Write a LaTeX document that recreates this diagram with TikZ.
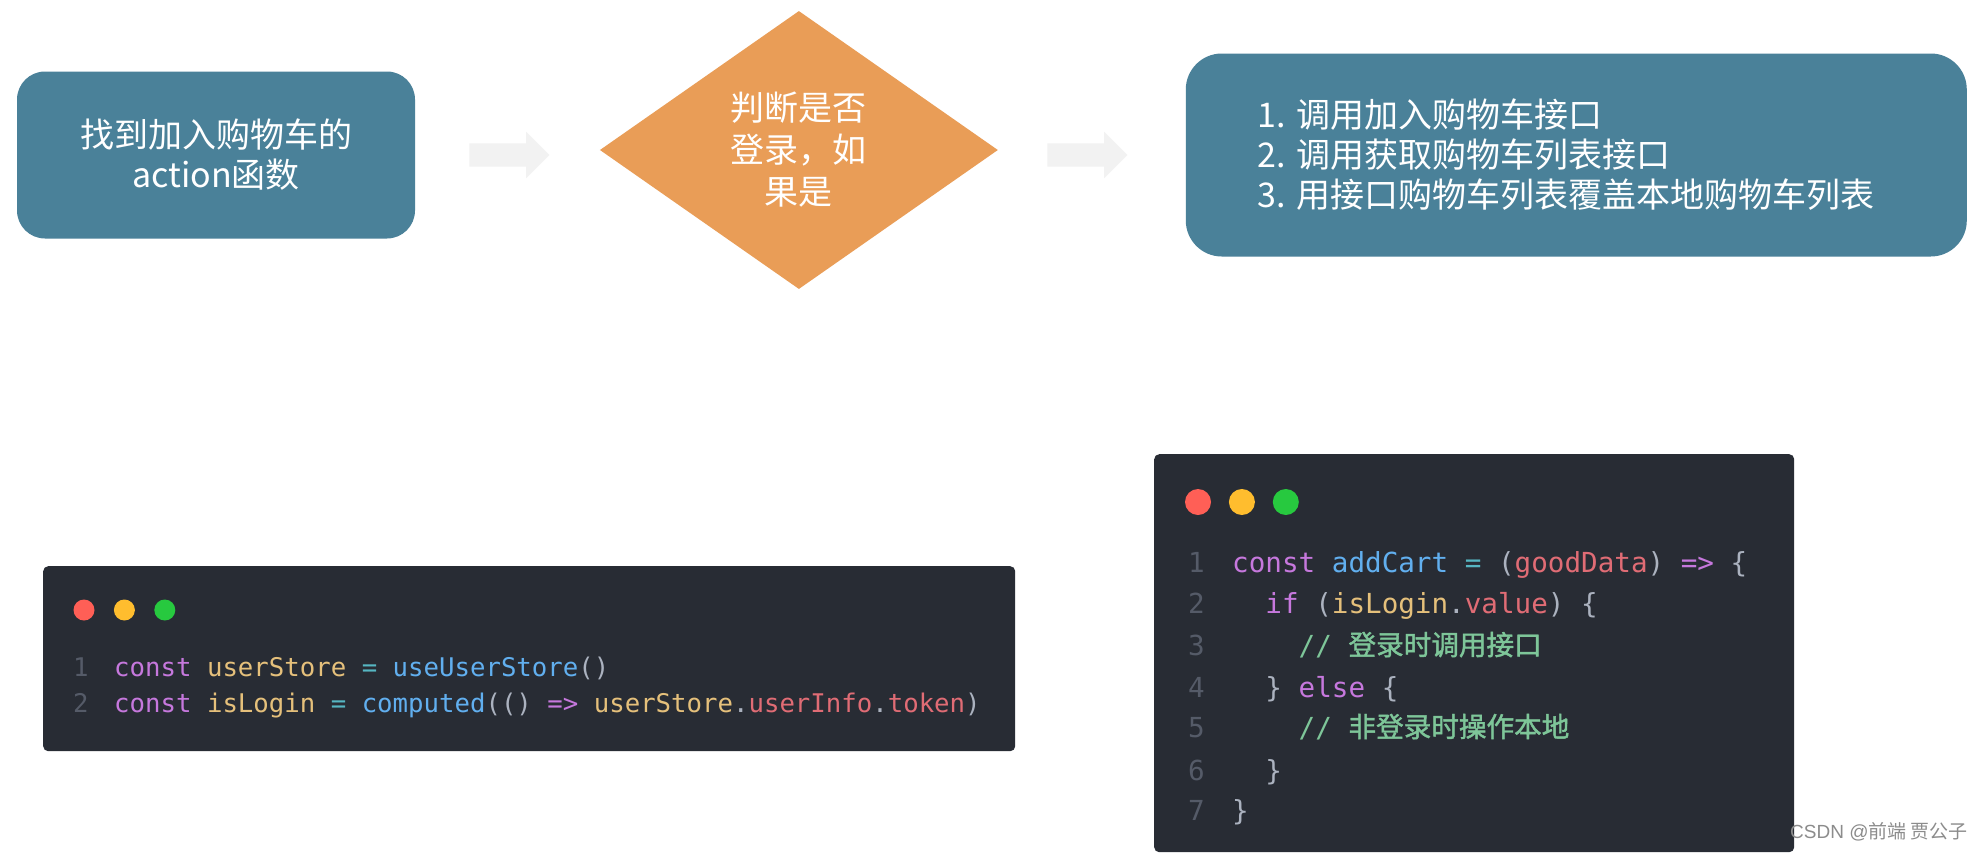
\documentclass[tikz,border=0pt]{standalone}
\usepackage{fontspec}
\setmainfont{Noto Sans CJK SC}
\newfontfamily\codefont{DejaVu Sans Mono}
\newfontfamily\cjkbold[FakeBold=1.5]{Noto Sans CJK SC}
\newfontfamily\markfont{Liberation Sans}
\usetikzlibrary{positioning,shapes.geometric,shapes.arrows,calc}

\definecolor{stepteal}{HTML}{4A8199}
\definecolor{checkorange}{HTML}{E99D57}
\definecolor{arrowgray}{HTML}{F2F2F2}
\definecolor{codebg}{HTML}{282C34}
\definecolor{codegray}{HTML}{ABB2BF}
\definecolor{codenum}{HTML}{555B68}
\definecolor{codepurple}{HTML}{C678DD}
\definecolor{codeyellow}{HTML}{E5C07B}
\definecolor{codeblue}{HTML}{61AFEF}
\definecolor{codecyan}{HTML}{56B6C2}
\definecolor{codered}{HTML}{E06C75}
\definecolor{codegreen}{HTML}{7EC699}
\definecolor{dotred}{HTML}{FF5F56}
\definecolor{dotyellow}{HTML}{FFBD2E}
\definecolor{dotgreen}{HTML}{27C93F}

% token colours for the code snippets
\newcommand{\tkKw}[1]{\textcolor{codepurple}{#1}}
\newcommand{\tkVar}[1]{\textcolor{codeyellow}{#1}}
\newcommand{\tkFn}[1]{\textcolor{codeblue}{#1}}
\newcommand{\tkOp}[1]{\textcolor{codecyan}{#1}}
\newcommand{\tkProp}[1]{\textcolor{codered}{#1}}
\newcommand{\tkCom}[1]{\textcolor{codegreen}{#1}}

\begin{document}
\begin{tikzpicture}[
    x=1pt, y=-1pt,
    stepbox/.style={fill=stepteal, text=white, inner sep=0pt, font=\fontsize{34}{40}\selectfont},
    decision/.style={diamond, fill=checkorange, text=white, inner sep=0pt, align=center,
      minimum width=398pt, minimum height=278pt, font=\fontsize{34}{42}\selectfont},
    flowarrow/.style={single arrow, fill=arrowgray, inner xsep=0pt, inner ysep=11.5pt,
      minimum height=80pt, minimum width=46pt, single arrow head extend=11.5pt},
    codebox/.style={fill=codebg, rounded corners=5pt, inner sep=0pt, anchor=north west},
    dot/.style={circle, inner sep=0pt},
    codeline/.style={anchor=base west, inner sep=0pt, text=codegray},
    smallCode/.style={codeline, font=\codefont\fontsize{25.7}{36}\selectfont},
    bigCode/.style={codeline, font=\codefont\fontsize{27.6}{41}\selectfont},
    lineNo/.style={text=codenum}
]
\fill[white] (0,0) rectangle (1982,852);
\useasboundingbox (0,0) rectangle (1982,852);

% flow along the top
\node[stepbox, rounded corners=28pt, minimum width=398pt, minimum height=167pt, align=center]
  (findAction) at (216,155) {找到加入购物车的\\action函数};
\node[flowarrow, right=54pt of findAction] (arrA) {};
\node[decision, right=50pt of arrA, yshift=5pt] (isLogin) {判断是否\\登录，如\\果是};
\node[flowarrow, right=49pt of isLogin, yshift=-5pt] (arrB) {};
\node[stepbox, rounded corners=36pt, right=58pt of arrB, text width=637pt, inner xsep=72pt,
  minimum height=203pt, align=left] (callApi) {%
  1.\hspace{10pt}调用加入购物车接口\\
  2.\hspace{10pt}调用获取购物车列表接口\\
  3.\hspace{10pt}用接口购物车列表覆盖本地购物车列表};

% snippet: login state
\node[codebox, minimum width=972pt, minimum height=185pt] (codeLogin) at (43,566) {};
\node[dot, fill=dotred, minimum size=21pt] (dotA1) at (84,610) {};
\node[dot, fill=dotyellow, minimum size=21pt, right=19pt of dotA1] (dotA2) {};
\node[dot, fill=dotgreen, minimum size=21pt, right=19pt of dotA2] (dotA3) {};
\node[smallCode, lineNo] (numA1) at (73,676) {1};
\node[smallCode, lineNo] (numA2) at (73,712) {2};
\node[smallCode] (lineA1) at (114,676) {\tkKw{const} \tkVar{userStore} \tkOp{=} \tkFn{useUserStore}()};
\node[smallCode] (lineA2) at (114,712) {\tkKw{const} \tkVar{isLogin} \tkOp{=} \tkFn{computed}(() \tkKw{=>} \tkVar{userStore}.\tkProp{userInfo}.\tkProp{token})};

% snippet: addCart
\node[codebox, minimum width=640pt, minimum height=398pt] (codeCart) at (1154,454) {};
\node[dot, fill=dotred, minimum size=26pt] (dotB1) at (1198,502) {};
\node[dot, fill=dotyellow, minimum size=26pt, right=17.5pt of dotB1] (dotB2) {};
\node[dot, fill=dotgreen, minimum size=26pt, right=17.5pt of dotB2] (dotB3) {};
\foreach \n/\y in {1/572,2/613,3/655,4/697,5/737,6/780,7/820}
  \node[bigCode, lineNo] (numB\n) at (1188,\y) {\n};
\node[bigCode] (lineB1) at (1232,572) {\tkKw{const} \tkFn{addCart} \tkOp{=} (\tkProp{goodData}) \tkKw{=>} \{};
\node[bigCode] (lineB2) at (1232,613) {\phantom{xx}\tkKw{if} (\tkVar{isLogin}.\tkProp{value}) \{};
\node[bigCode] (lineB3) at (1232,655) {\phantom{xxxx}\tkCom{// {\cjkbold 登录时调用接口}}};
\node[bigCode] (lineB4) at (1232,697) {\phantom{xx}\} \tkKw{else} \{};
\node[bigCode] (lineB5) at (1232,737) {\phantom{xxxx}\tkCom{// {\cjkbold 非登录时操作本地}}};
\node[bigCode] (lineB6) at (1232,780) {\phantom{xx}\}};
\node[bigCode] (lineB7) at (1232,820) {\}};

\node[text=black!45, inner sep=0pt, font=\fontsize{19}{22}\selectfont] (mark) at (1879,832)
  {{\markfont CSDN @}前端 贾公子};
\end{tikzpicture}
\end{document}
